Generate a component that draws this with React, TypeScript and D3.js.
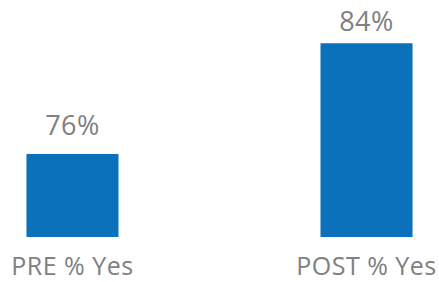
import * as d3 from 'd3';
import React from 'react';

const categories = ['PRE % Yes', 'POST % Yes'];
const values = [76, 84];
const yDomain = [70, 85];

const width = 439;
const height = 282;

export default function App() {
  const x = d3.scaleBand<string>()
    .domain(categories)
    .range([0, width])
    .paddingInner(0.687)
    .paddingOuter(0.09);
  const y = d3.scaleLinear().domain(yDomain).range([237, 29.4]);

  return (
    <svg width={width} height={height}
      style={{ position: 'absolute', left: 0, top: 0, fontFamily: '"Open Sans", sans-serif' }}>
      {categories.map((c, i) => {
        const bx = x(c) as number;
        const top = y(values[i]);
        const cx = bx + x.bandwidth() / 2;
        return (
          <g key={c}>
            <rect x={bx} y={top} width={x.bandwidth()} height={y(yDomain[0]) - top} fill="#0b71ba" />
            <text x={cx} y={Math.max(top - 19, 31)} textAnchor="middle" fontSize={27}
              letterSpacing={0.5} fill="#808080">
              {values[i] + '%'}
            </text>
            <text x={cx} y={275} textAnchor="middle" fontSize={25} letterSpacing={0.5} fill="#808080">{c}</text>
          </g>
        );
      })}
    </svg>
  );
}
